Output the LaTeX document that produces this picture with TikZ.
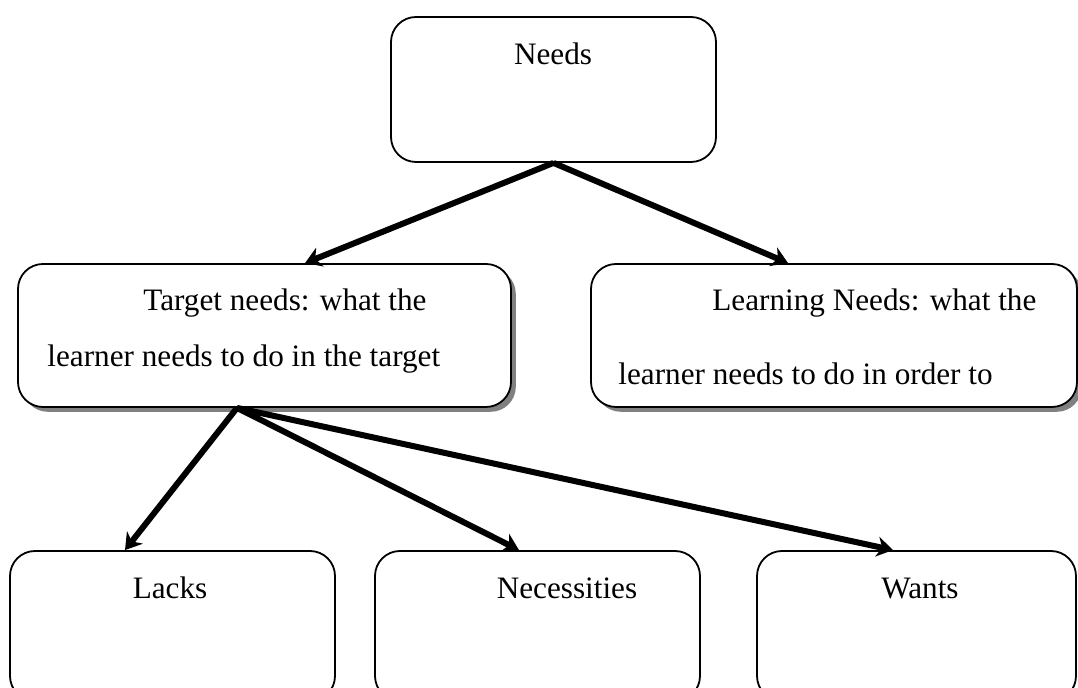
\documentclass[tikz,border=0pt]{standalone}
\usepackage{fontspec}
\setmainfont{Liberation Serif}
\usetikzlibrary{arrows.meta,shadows,calc}
\begin{document}
\begin{tikzpicture}[x=0.5pt,y=-0.5pt,
  box/.style={draw=black,line width=0.9pt,rounded corners=12.5pt,fill=white,inner sep=0pt},
  shbox/.style={box,drop shadow={shadow xshift=2.4pt,shadow yshift=-2.4pt,fill=black!50,opacity=1}},
  lbl/.style={inner sep=0pt,font=\fontsize{15.6}{18}\selectfont},
  conn/.style={line width=3pt,-{Stealth[length=8pt,width=10pt,inset=2.5pt]}}
]
\useasboundingbox (0,0) rectangle (1078,688);
% boxes
\node[box,minimum width=162.5pt,minimum height=72.5pt] (needs) at (553.5,89.5) {};
\node[shbox,minimum width=246.5pt,minimum height=71.5pt] (target) at (264.5,335.5) {};
\node[shbox,minimum width=243pt,minimum height=71.5pt] (learning) at (834,335.5) {};
\node[box,minimum width=162.5pt,minimum height=75pt] (lacks) at (172.5,626) {};
\node[box,minimum width=162.5pt,minimum height=75pt] (necess) at (537.5,626) {};
\node[box,minimum width=159.5pt,minimum height=75pt] (wants) at (916.5,626) {};
% texts
\node[lbl,anchor=base] (tneeds) at (553,65) {Needs};
\node[lbl,anchor=base west] (ttarget1) at (143,311) {Target needs: what the};
\node[lbl,anchor=base west] (ttarget2) at (47,367) {learner needs to do in the target};
\node[lbl,anchor=base west] (tlearn1) at (712,311) {Learning Needs: what the};
\node[lbl,anchor=base west] (tlearn2) at (618,385) {learner needs to do in order to};
\node[lbl,anchor=base] (tlacks) at (170,599) {Lacks};
\node[lbl,anchor=base] (tnecess) at (567,599) {Necessities};
\node[lbl,anchor=base] (twants) at (920,599) {Wants};
% connectors
\coordinate (tb) at ($(target.south)+(-27.5,0)$);
\draw[conn] (needs.south) -- ($(target.north)+(40.5,0)$);
\draw[conn] (needs.south) -- ($(learning.north)+(-46,0)$);
\draw[conn] (tb) -- ($(lacks.north)+(-47.5,0)$);
\draw[conn] (tb) -- ($(necess.north)+(-18.5,0)$);
\draw[conn] (tb) -- ($(wants.north)+(-23.5,0)$);
\end{tikzpicture}
\end{document}
